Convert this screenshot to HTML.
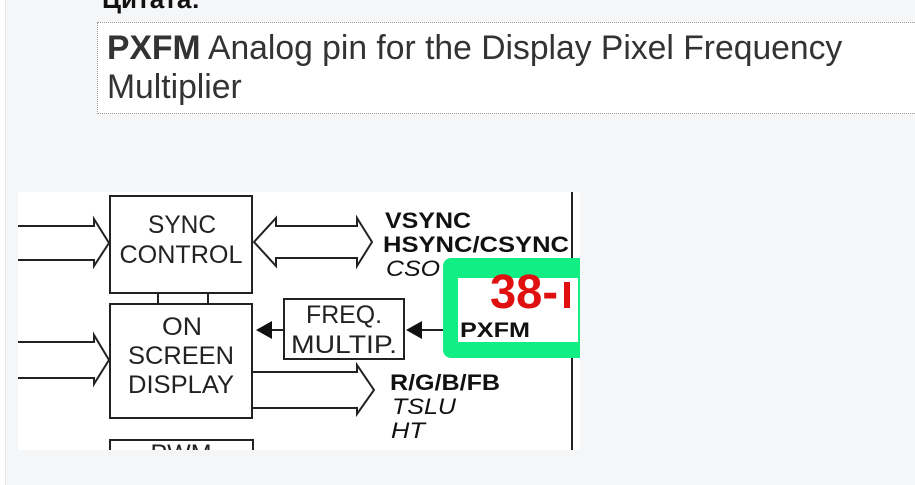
<!DOCTYPE html>
<html><head><meta charset="utf-8"><style>
html,body{margin:0;padding:0;width:915px;height:485px;overflow:hidden;background:#f5f6f8;font-family:"Liberation Sans",Arial,sans-serif;}
.strip{position:absolute;left:0;top:0;width:5px;height:485px;background:#fff;border-right:1px solid #e6e7ea;}
.h{position:absolute;left:102px;top:-16px;font-size:26px;font-weight:bold;color:#111;}
.q{position:absolute;left:97px;top:22px;width:830px;height:92px;background:#fff;border:1px dotted #999;box-sizing:border-box;}
.q div{position:absolute;left:9px;top:6px;font-size:34px;line-height:39px;color:#333;width:900px;transform:scaleX(0.99);transform-origin:0 0;white-space:nowrap;}
svg{position:absolute;left:0;top:0;}
</style></head><body>
<div class="strip"></div>
<div class="h">Цитата:</div>
<div class="q"><div><b>PXFM</b> Analog pin for the Display Pixel Frequency<br>Multiplier</div></div>
<svg width="915" height="485" font-family="Liberation Sans,Arial,sans-serif">
<defs><clipPath id="c"><rect x="18" y="192" width="562" height="258"/></clipPath></defs>
<g clip-path="url(#c)">
<rect x="18" y="192" width="562" height="258" fill="#fff"/>
<g fill="none" stroke="#222" stroke-width="2">
<rect x="110" y="196" width="142" height="97"/>
<rect x="110" y="304" width="142" height="114"/>
<rect x="110" y="440" width="143" height="40"/>
<rect x="284" y="299" width="120" height="60"/>
<line x1="158" y1="293" x2="158" y2="304"/><line x1="208" y1="293" x2="208" y2="304"/>
<line x1="572" y1="192" x2="572" y2="450"/>
<polyline points="18,226 94,226 94,219 109,243 94,266 94,260 18,260"/>
<polyline points="18,342 94,342 94,335 109,360 94,384 94,378 18,378"/>
<polygon points="254,242 276,218 276,226 357,226 357,218 372,242 357,266 357,258 276,258 276,266"/>
<polyline points="252,372 357,372 357,365 374,390 357,414 357,408 252,408"/>
<line x1="270" y1="330" x2="284" y2="330"/>
<line x1="422" y1="330" x2="443" y2="330"/>
</g>
<polygon points="256,330 272,321 272,339" fill="#111"/>
<polygon points="406,330 422,321 422,339" fill="#111"/>
<g font-size="25" fill="#222" text-anchor="middle">
<text x="182" y="233" textLength="68" lengthAdjust="spacingAndGlyphs">SYNC</text>
<text x="181" y="263" textLength="123" lengthAdjust="spacingAndGlyphs">CONTROL</text>
<text x="182" y="335" textLength="40" lengthAdjust="spacingAndGlyphs">ON</text>
<text x="181" y="364" textLength="106" lengthAdjust="spacingAndGlyphs">SCREEN</text>
<text x="181" y="393" textLength="106" lengthAdjust="spacingAndGlyphs">DISPLAY</text>
<text x="344" y="323" textLength="76" lengthAdjust="spacingAndGlyphs">FREQ.</text>
<text x="344" y="353" textLength="106" lengthAdjust="spacingAndGlyphs">MULTIP.</text>
<text x="181" y="462">PWM</text>
</g>
<g font-size="22" fill="#111">
<text x="385" y="228" font-weight="bold" textLength="86" lengthAdjust="spacingAndGlyphs">VSYNC</text>
<text x="383" y="252" font-weight="bold" textLength="186" lengthAdjust="spacingAndGlyphs">HSYNC/CSYNC</text>
<text x="386" y="276" font-style="italic" textLength="54" lengthAdjust="spacingAndGlyphs">CSO</text>
<text x="390" y="390" font-weight="bold" textLength="110" lengthAdjust="spacingAndGlyphs">R/G/B/FB</text>
<text x="392" y="414" font-style="italic" textLength="64" lengthAdjust="spacingAndGlyphs">TSLU</text>
<text x="391" y="438" font-style="italic" textLength="34" lengthAdjust="spacingAndGlyphs">HT</text>
</g>
<rect x="443" y="258" width="150" height="100" rx="8" fill="#10ee84"/>
<rect x="458" y="278" width="120" height="64" fill="#fff"/>
<text x="490" y="308" font-size="48" font-weight="bold" fill="#e01010" textLength="68" lengthAdjust="spacingAndGlyphs">38-</text>
<rect x="564" y="282" width="6" height="26" fill="#e01010"/>
<text x="460" y="337" font-size="21" font-weight="bold" fill="#111" textLength="70" lengthAdjust="spacingAndGlyphs">PXFM</text>
</g>
</svg>
</body></html>
